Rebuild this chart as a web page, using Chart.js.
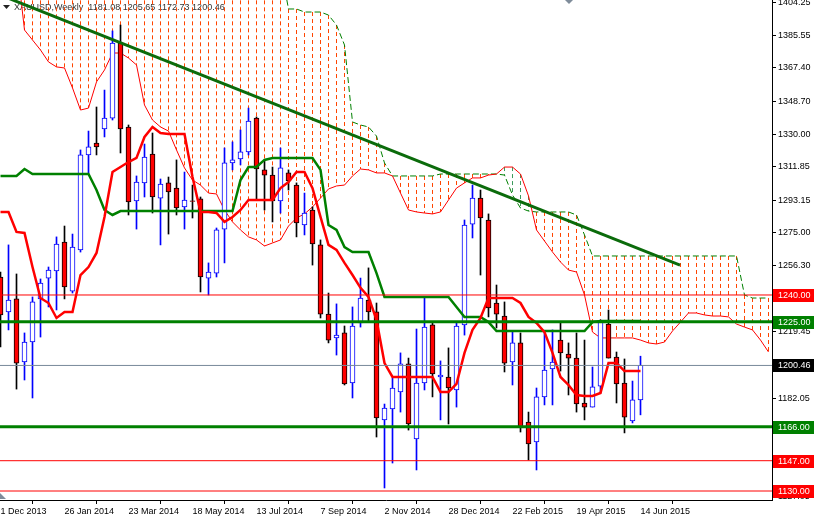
<!DOCTYPE html>
<html>
<head>
<meta charset="utf-8">
<script src="https://cdn.jsdelivr.net/npm/chart.js@4.4.1/dist/chart.umd.min.js"></script>
<style>
    html, body { margin: 0; padding: 0; background: #ffffff; }
</style>
</head>
<body>
<canvas id="goldChart" width="814" height="516"></canvas>
<script>
// XAUUSD weekly candles, bar 0 = week of 1 Dec 2013, bar 80 = week of 14 Jun 2015
const opens = [
    1250.1, 1230.5, 1237.8, 1202.4, 1213.6, 1237.8, 1249.5, 1253.5, 1269.7, 1242.2,
    1265.3, 1318.6, 1325.3, 1333.2, 1339.3, 1381.4, 1334.3, 1292.8, 1302.9, 1319.1,
    1294.4, 1302.9, 1300.0, 1289.4, 1292.8, 1293.9, 1249.5, 1252.3, 1277.0, 1314.1,
    1316.3, 1320.3, 1339.3, 1310.2, 1307.3, 1292.8, 1308.5, 1301.7, 1279.3, 1287.7,
    1268.1, 1229.3, 1215.9, 1218.7, 1190.6, 1224.3, 1237.2, 1230.5, 1169.9, 1176.0,
    1185.6, 1201.3, 1159.2, 1190.6, 1223.2, 1194.0, 1194.0, 1186.7, 1223.2, 1279.8,
    1294.4, 1282.1, 1235.5, 1228.2, 1202.4, 1213.1, 1168.7, 1157.5, 1182.8, 1198.5,
    1214.7, 1206.9, 1204.6, 1179.4, 1177.1, 1188.9, 1223.7, 1205.2, 1190.6, 1169.3,
    1181.08
];
const highs = [
    1252.9, 1268.1, 1251.8, 1218.7, 1238.9, 1249.0, 1255.7, 1272.6, 1278.7, 1274.2,
    1321.4, 1332.0, 1345.5, 1355.0, 1388.2, 1391.5, 1335.4, 1306.8, 1324.7, 1330.9,
    1305.1, 1306.2, 1315.8, 1309.0, 1301.7, 1295.0, 1258.0, 1277.6, 1322.5, 1325.9,
    1332.6, 1344.9, 1339.9, 1315.8, 1311.8, 1322.5, 1310.2, 1302.9, 1297.2, 1289.4,
    1270.9, 1241.1, 1235.0, 1222.6, 1233.3, 1249.5, 1255.2, 1235.5, 1178.8, 1193.4,
    1207.5, 1204.6, 1220.9, 1238.3, 1224.3, 1203.0, 1210.3, 1224.3, 1282.1, 1301.7,
    1298.9, 1285.5, 1245.6, 1236.1, 1219.2, 1218.7, 1174.3, 1187.8, 1219.2, 1220.4,
    1224.3, 1213.1, 1218.7, 1214.7, 1199.6, 1226.0, 1231.6, 1208.0, 1204.1, 1191.7,
    1205.65
];
const lows = [
    1210.8, 1220.4, 1187.2, 1192.3, 1182.2, 1216.4, 1233.3, 1231.6, 1237.8, 1241.1,
    1264.1, 1308.5, 1318.6, 1328.7, 1338.2, 1319.7, 1284.9, 1277.0, 1295.0, 1286.0,
    1268.1, 1274.2, 1284.9, 1277.0, 1283.2, 1241.7, 1240.0, 1250.1, 1258.0, 1310.2,
    1313.0, 1318.6, 1293.3, 1287.7, 1281.0, 1286.0, 1298.9, 1272.6, 1273.7, 1256.8,
    1227.1, 1213.1, 1206.3, 1189.5, 1182.2, 1222.0, 1224.8, 1160.3, 1131.7, 1145.7,
    1174.3, 1164.2, 1141.8, 1186.7, 1182.8, 1169.9, 1167.6, 1177.1, 1217.5, 1272.0,
    1251.2, 1227.7, 1221.5, 1196.8, 1189.5, 1163.1, 1147.4, 1141.8, 1178.3, 1178.3,
    1197.3, 1183.9, 1174.3, 1169.9, 1177.1, 1185.0, 1204.6, 1179.4, 1162.6, 1168.2,
    1172.73
];
const closes = [
    1228.8, 1237.2, 1201.8, 1213.6, 1236.1, 1246.7, 1254.0, 1268.6, 1244.5, 1266.9,
    1318.6, 1323.1, 1323.1, 1339.3, 1381.4, 1333.2, 1292.2, 1303.4, 1317.4, 1295.0,
    1302.3, 1297.8, 1288.8, 1293.3, 1292.5, 1250.1, 1252.9, 1276.5, 1314.1, 1315.8,
    1320.3, 1337.6, 1310.7, 1307.3, 1292.8, 1311.3, 1304.0, 1280.4, 1286.0, 1268.6,
    1229.3, 1214.7, 1217.5, 1190.1, 1222.6, 1238.3, 1230.5, 1171.0, 1176.6, 1187.8,
    1201.3, 1167.6, 1190.6, 1222.0, 1195.7, 1195.1, 1187.8, 1222.6, 1279.3, 1294.4,
    1283.2, 1232.7, 1229.3, 1201.8, 1213.1, 1165.9, 1156.4, 1182.8, 1197.9, 1202.4,
    1207.5, 1204.6, 1178.8, 1177.1, 1188.4, 1224.8, 1204.6, 1190.1, 1171.5, 1181.1,
    1200.46
];

// Ichimoku lines
const tenkan = [
    1286.6, 1286.6, 1275.4, 1274.8, 1255.7, 1238.3, 1235.5, 1227.1, 1230.5, 1230.5,
    1251.2, 1255.7, 1263.6, 1283.8, 1309.0, 1311.8, 1314.6, 1316.9, 1328.7, 1334.3,
    1330.9, 1330.3, 1330.3, 1330.3, 1306.2, 1286.6, 1286.6, 1286.0, 1281.0, 1283.8,
    1287.7, 1293.3, 1293.3, 1293.3, 1293.3, 1300.0, 1303.4, 1309.0, 1309.0, 1300.0,
    1283.8, 1268.1, 1265.3, 1258.0, 1251.2, 1244.0, 1238.9, 1226.0, 1201.8, 1194.0,
    1194.0, 1194.0, 1194.0, 1194.0, 1194.0, 1185.6, 1185.6, 1190.1, 1207.5, 1220.4,
    1227.1, 1238.3, 1238.3, 1238.3, 1238.3, 1235.5, 1227.7, 1224.3, 1219.2, 1207.5,
    1194.0, 1189.5, 1183.9, 1183.3, 1183.3, 1185.0, 1201.8, 1201.8, 1197.3, 1197.3,
    1197.3
];
const kijun = [
    1306.8, 1306.8, 1306.8, 1310.7, 1307.9, 1307.9, 1307.9, 1307.9, 1307.9, 1307.9,
    1307.9, 1307.9, 1298.9, 1287.7, 1284.9, 1287.1, 1287.1, 1287.1, 1287.1, 1287.1,
    1287.1, 1287.1, 1287.1, 1287.1, 1287.1, 1287.1, 1287.1, 1287.1, 1287.1, 1287.1,
    1304.5, 1311.8, 1311.8, 1315.8, 1316.9, 1316.9, 1316.9, 1316.9, 1316.9, 1316.9,
    1310.2, 1279.3, 1276.5, 1266.9, 1264.1, 1264.1, 1264.1, 1252.3, 1238.9, 1238.9,
    1238.9, 1238.9, 1238.9, 1238.9, 1238.9, 1238.9, 1238.9, 1233.3, 1227.7, 1227.7,
    1227.7, 1224.8, 1219.8, 1219.8, 1219.8, 1219.8, 1219.8, 1219.8, 1219.8, 1219.8,
    1219.8, 1219.8, 1219.8, 1219.8, 1224.8, 1225.4, 1225.4, 1225.4, 1225.4, 1225.4,
    1225.4
];
// cloud edges, shifted 16 bars past the last candle
const spanA = [
    1450.4, 1439.2, 1428.0, 1388.7, 1383.1, 1377.5, 1370.8, 1368.0, 1367.4, 1356.2,
    1343.8, 1344.9, 1359.6, 1366.3, 1375.8, 1375.8, 1373.0, 1369.1, 1346.6, 1338.2,
    1334.3, 1332.0, 1321.4, 1311.3, 1304.5, 1301.7, 1297.2, 1296.7, 1287.7, 1281.0,
    1276.5, 1272.6, 1270.9, 1267.5, 1269.2, 1270.9, 1278.7, 1283.2, 1285.5, 1289.4,
    1294.4, 1299.5, 1301.2, 1301.7, 1306.8, 1310.7, 1310.2, 1308.5, 1308.5, 1306.8,
    1297.2, 1287.7, 1286.6, 1286.0, 1285.5, 1286.6, 1293.3, 1300.0, 1302.9, 1305.7,
    1305.7, 1307.3, 1307.9, 1311.8, 1311.8, 1307.9, 1295.6, 1276.5, 1270.3, 1264.1,
    1258.5, 1254.0, 1252.9, 1240.0, 1219.2, 1215.9, 1215.9, 1215.9, 1215.9, 1215.9,
    1214.7, 1213.1, 1212.5, 1213.6, 1219.8, 1224.8, 1229.9, 1229.9, 1228.8, 1228.2,
    1228.2, 1227.7, 1223.7, 1222.0, 1220.4, 1214.7, 1208.0
];
const spanB = [
    1425.0, 1425.0, 1425.0, 1425.0, 1425.0, 1425.0, 1425.0, 1425.0, 1425.0, 1425.0,
    1425.0, 1425.0, 1425.0, 1425.0, 1425.0, 1425.0, 1425.0, 1425.0, 1425.0, 1425.0,
    1425.0, 1425.0, 1425.0, 1425.0, 1425.0, 1425.0, 1425.0, 1425.0, 1425.0, 1425.0,
    1425.0, 1425.0, 1425.0, 1425.0, 1425.0, 1425.0, 1400.5, 1400.5, 1398.8, 1398.8,
    1398.8, 1397.1, 1391.5, 1380.3, 1337.1, 1335.4, 1334.3, 1329.2, 1314.1, 1306.8,
    1306.8, 1306.8, 1306.8, 1306.8, 1306.8, 1307.9, 1307.9, 1307.9, 1307.9, 1307.9,
    1307.9, 1307.9, 1307.9, 1307.3, 1296.1, 1288.8, 1287.1, 1286.6, 1286.6, 1286.6,
    1286.6, 1286.6, 1284.9, 1273.7, 1261.9, 1261.9, 1261.9, 1261.9, 1261.9, 1261.9,
    1261.9, 1261.9, 1261.9, 1261.9, 1261.9, 1261.9, 1261.9, 1261.9, 1261.9, 1261.9,
    1261.9, 1261.9, 1261.9, 1240.0, 1238.3, 1238.3, 1238.3
];

// drawn objects
const levels = [1240.00, 1225.00, 1200.46, 1166.00, 1147.00, 1130.00];
const levelColors = ['#ff0000', '#008000', '#778899', '#008000', '#ff0000', '#ff0000'];
const levelWidths = [1, 3, 1, 3, 1, 1];
const levelTagColors = ['#ff0000', '#008000', '#000000', '#008000', '#ff0000', '#ff0000'];
const trendX = [-1, 84.94];
const trendY = [1410.1, 1256.8];

// axes
const yTicks = [1404.25, 1385.55, 1367.40, 1348.70, 1330.00, 1311.85, 1293.15, 1275.00,
    1256.30, 1237.60, 1219.45, 1200.75, 1182.05, 1163.90, 1145.20, 1127.05];
const dateTicks = [0, 8, 16, 24, 32, 40, 48, 56, 64, 72, 80];
const dateLabels = ['1 Dec 2013', '26 Jan 2014', '23 Mar 2014', '18 May 2014', '13 Jul 2014',
    '7 Sep 2014', '2 Nov 2014', '28 Dec 2014', '22 Feb 2015', '19 Apr 2015', '14 Jun 2015'];

const xMin = -0.0625;
const xMax = xMin + 772 / 8;
const yMin = 1124.95;
const yMax = 1405.55;

const isUp = opens.map((o, i) => closes[i] >= o);
const bodies = opens.map((o, i) => ({ x: i, y: [Math.min(o, closes[i]), Math.max(o, closes[i])] }));
const wicks = lows.map((l, i) => ({ x: i, y: [l, highs[i]] }));

// cloud hatch: one dashed vertical per bar
const redHatch = [];
const greenHatch = [];
spanA.forEach((a, i) => {
    const b = spanB[i];
    const target = a < b ? redHatch : greenHatch;
    if (a === b) return;
    target.push({ x: i, y: Math.max(a, b) }, { x: i, y: Math.min(a, b) }, { x: i, y: null });
});

const line = (data, color, width, order, dash) => ({
    type: 'line',
    data: data,
    borderColor: color,
    borderWidth: width,
    borderDash: dash || [],
    pointRadius: 0,
    tension: 0,
    fill: false,
    spanGaps: false,
    order: order
});

const datasets = [
    line(trendX.map((x, i) => ({ x: x, y: trendY[i] })), '#0b6b0b', 3, 0),
    ...levels.map((v, k) => line([{ x: xMin, y: v }, { x: xMax, y: v }], levelColors[k], levelWidths[k], 1)),
    line(tenkan.map((v, i) => ({ x: i, y: v })), '#ff0000', 2.5, 2),
    line(kijun.map((v, i) => ({ x: i, y: v })), '#008000', 2.5, 2),
    {
        type: 'bar',
        data: bodies,
        backgroundColor: isUp.map(u => u ? '#ffffff' : '#ff0000'),
        borderColor: isUp.map(u => u ? '#0000ff' : '#000000'),
        borderWidth: 1,
        borderSkipped: false,
        barThickness: 5,
        grouped: false,
        order: 3
    },
    {
        type: 'bar',
        data: wicks,
        backgroundColor: isUp.map(u => u ? '#0000ff' : '#000000'),
        borderWidth: 0,
        barThickness: 1,
        grouped: false,
        order: 4
    },
    line(spanA.map((v, i) => ({ x: i, y: v })), '#ff0000', 1, 5),
    line(spanB.map((v, i) => ({ x: i, y: v })), '#008000', 1, 5, [6, 3]),
    line(redHatch, '#ff4500', 1, 6, [4, 3]),
    line(greenHatch, '#3c9a5c', 1, 6, [4, 3])
];

const last = opens.length - 1;
const headerText = 'XAUUSD,Weekly  ' + opens[last].toFixed(2) + ' ' + highs[last].toFixed(2) + ' ' +
    lows[last].toFixed(2) + ' ' + closes[last].toFixed(2);

const terminalBits = {
    id: 'terminalBits',
    beforeDatasetsDraw(chart) {
        const ctx = chart.ctx;
        ctx.save();
        ctx.fillStyle = '#222222';
        ctx.beginPath();
        ctx.moveTo(3, 5);
        ctx.lineTo(10, 5);
        ctx.lineTo(6.5, 9);
        ctx.closePath();
        ctx.fill();
        ctx.font = '9px "Liberation Sans", Arial, sans-serif';
        ctx.textBaseline = 'middle';
        ctx.textAlign = 'left';
        ctx.fillStyle = '#333333';
        ctx.fillText(headerText, 14, 7.5);
        // shift marker and chart end marker
        ctx.fillStyle = '#7f8c9a';
        ctx.beginPath();
        ctx.moveTo(565, 0);
        ctx.lineTo(573, 0);
        ctx.lineTo(569, 4);
        ctx.closePath();
        ctx.fill();
        ctx.beginPath();
        ctx.moveTo(0, 493);
        ctx.lineTo(6, 499);
        ctx.lineTo(0, 499);
        ctx.closePath();
        ctx.fill();
        ctx.restore();
    },
    afterDraw(chart) {
        const ctx = chart.ctx;
        const y = chart.scales.y;
        const left = chart.chartArea.right + 1;
        ctx.save();
        ctx.font = '9px "Liberation Sans", Arial, sans-serif';
        ctx.textBaseline = 'middle';
        ctx.textAlign = 'left';
        levels.forEach((v, k) => {
            const py = Math.round(y.getPixelForValue(v));
            ctx.fillStyle = levelTagColors[k];
            ctx.fillRect(left, py - 6, 814 - left, 13);
            ctx.fillStyle = '#ffffff';
            ctx.fillText(v.toFixed(2), left + 5, py + 0.5);
        });
        ctx.restore();
    }
};

Chart.defaults.font.family = '"Liberation Sans", Arial, sans-serif';
Chart.defaults.font.size = 9;
Chart.defaults.color = '#000000';

new Chart(document.getElementById('goldChart'), {
    type: 'bar',
    data: { datasets: datasets },
    options: {
        responsive: false,
        animation: false,
        events: [],
        layout: { padding: 0 },
        plugins: {
            legend: { display: false },
            tooltip: { enabled: false }
        },
        scales: {
            x: {
                type: 'linear',
                position: 'bottom',
                min: xMin,
                max: xMax,
                offset: false,
                grid: { drawOnChartArea: false, drawTicks: true, tickLength: 4, color: '#000000' },
                border: { display: true, color: '#000000', width: 1 },
                ticks: {
                    autoSkip: false,
                    maxRotation: 0,
                    minRotation: 0,
                    align: 'start',
                    padding: 2,
                    color: '#000000',
                    callback: (value, index) => dateLabels[index]
                },
                afterBuildTicks: axis => { axis.ticks = dateTicks.map(v => ({ value: v })); },
                afterFit: axis => {
                    axis.height = 16;
                    axis.paddingLeft = 0;
                    axis.paddingRight = 0;
                }
            },
            y: {
                type: 'linear',
                position: 'right',
                min: yMin,
                max: yMax,
                grid: { drawOnChartArea: false, drawTicks: true, tickLength: 4, color: '#000000' },
                border: { display: true, color: '#000000', width: 1 },
                ticks: {
                    autoSkip: false,
                    padding: 2,
                    color: '#000000',
                    callback: value => value.toFixed(2)
                },
                afterBuildTicks: axis => { axis.ticks = yTicks.map(v => ({ value: v })); },
                afterFit: axis => {
                    axis.width = 42;
                    axis.paddingTop = 0;
                    axis.paddingBottom = 0;
                }
            }
        }
    },
    plugins: [terminalBits]
});
</script>
</body>
</html>
